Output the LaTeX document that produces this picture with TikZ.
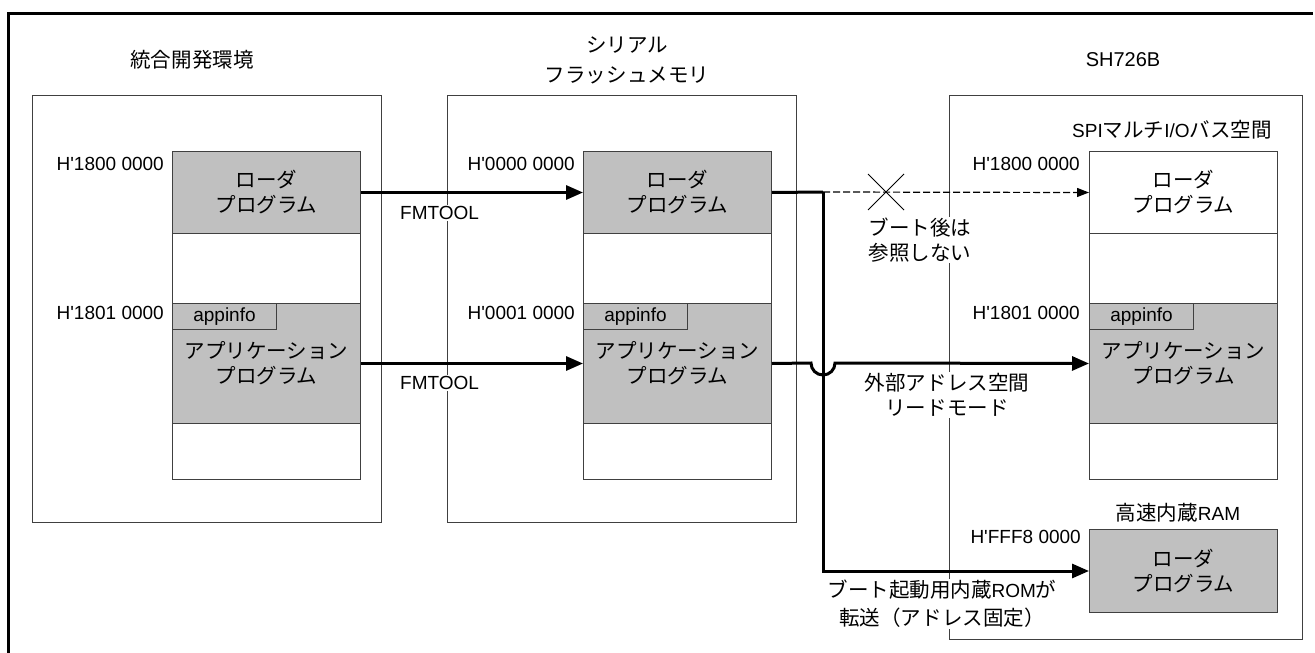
\documentclass[tikz,border=0pt]{standalone}
\usepackage{fontspec}
\setmainfont{Liberation Sans}[Ligatures=TeXOff]
\newfontfamily\jp{Noto Sans CJK JP}[Scale=1.08]
\usetikzlibrary{arrows.meta}
\definecolor{boxc}{RGB}{64,64,64}
\definecolor{gblk}{RGB}{192,192,192}
\tikzset{
  txt/.style={font=\fontsize{19}{25}\selectfont, inner sep=1pt, align=center},
  colfr/.style={draw=boxc, line width=1pt, anchor=north west, inner sep=0pt, fill=white},
  memo/.style={draw=boxc, fill=white, line width=1pt, minimum width=188pt, minimum height=328pt, anchor=north west, inner sep=0pt},
  blk/.style={txt, draw=boxc, line width=1pt, minimum width=188pt, anchor=north west},
  ldblk/.style={blk, fill=gblk, minimum height=82pt},
  appblk/.style={blk, fill=gblk, minimum height=120pt},
  infoblk/.style={txt, draw=boxc, fill=gblk, line width=1pt, minimum width=104pt, minimum height=26pt, anchor=north west},
  addr/.style={txt, anchor=east},
  lbl/.style={txt, fill=white},
  bigarrow/.style={line width=3pt, -{Triangle[length=17pt,width=14pt]}},
  thickline/.style={line width=3pt},
  dasharrow/.style={line width=1.2pt, dash pattern=on 7pt off 3pt, -{Triangle[length=12pt,width=9pt]}},
}
\begin{document}
\begin{tikzpicture}[x=1pt, y=-1pt]
\useasboundingbox (0,0) rectangle (1315,653);
% outer frame (top and left visible)
\draw[line width=3pt] (8,653) -- (8,13) -- (1313,13);

% column frames
\node[colfr, minimum width=349pt, minimum height=427pt] (Lfr) at (32,95) {};
\node[colfr, minimum width=349pt, minimum height=427pt] (Mfr) at (447,95) {};
\node[colfr, minimum width=353pt, minimum height=544pt] (Rfr) at (949,95) {};

% titles
\node[txt] (Ltitle) at (192,60) {\jp 統合開発環境};
\node[txt, font=\fontsize{19}{30}\selectfont] (Mtitle) at (627,60) {{\jp シリアル}\\{\jp フラッシュメモリ}};
\node[txt, font=\fontsize{20}{25}\selectfont] (Rtitle) at (1123,60) {SH726B};
\node[txt] (spi) at (1172,130) {SPI{\jp マルチ}I/O{\jp バス空間}};

% left memory
\node[memo] (Lmem) at (172,151) {};
\node[ldblk] (Lld) at (172,151) {{\jp ローダ}\\{\jp プログラム}};
\node[appblk] (Lapp) at (172,303) {{\jp アプリケーション}\\{\jp プログラム}};
\node[infoblk] (Linfo) at (172,303) {appinfo};
\node[addr] (La1) at (165,164) {H'1800 0000};
\node[addr] (La2) at (165,313) {H'1801 0000};

% middle memory
\node[memo] (Mmem) at (583,151) {};
\node[ldblk] (Mld) at (583,151) {{\jp ローダ}\\{\jp プログラム}};
\node[appblk] (Mapp) at (583,303) {{\jp アプリケーション}\\{\jp プログラム}};
\node[infoblk] (Minfo) at (583,303) {appinfo};
\node[addr] (Ma1) at (576,164) {H'0000 0000};
\node[addr] (Ma2) at (576,313) {H'0001 0000};

% right memory
\node[memo] (Rmem) at (1089,151) {};
\node[blk, fill=white, minimum height=82pt] (Rld) at (1089,151) {{\jp ローダ}\\{\jp プログラム}};
\node[appblk] (Rapp) at (1089,303) {{\jp アプリケーション}\\{\jp プログラム}};
\node[infoblk] (Rinfo) at (1089,303) {appinfo};
\node[addr] (Ra1) at (1081,164) {H'1800 0000};
\node[addr] (Ra2) at (1081,313) {H'1801 0000};

% high-speed RAM
\node[txt] (ramt) at (1178,513) {{\jp 高速内蔵}RAM};
\node[ldblk, minimum height=83pt] (RAM) at (1089,529) {{\jp ローダ}\\{\jp プログラム}};
\node[addr] (Ra3) at (1082,537) {H'FFF8 0000};

% connectors
\coordinate (J1) at (823,192);
\draw[bigarrow] (Lld.east) -- (Mld.west);
\draw[bigarrow] (Lapp.east) -- (Mapp.west);
\draw[thickline] (Mld.east) -- (J1);
\draw[bigarrow] (J1) |- (RAM.west);
\draw[dasharrow] (J1) -- (Rld.west);
\draw[bigarrow] (Mapp.east) -- (811,363) arc[start angle=180, end angle=0, radius=12] -- (Rapp.west);

% cross mark
\draw[line width=0.8pt] (868,174) -- (904,210) (868,210) -- (904,174);

% labels
\node[lbl, anchor=west] (fm1) at (399,213) {FMTOOL};
\node[lbl, anchor=west] (fm2) at (399,383) {FMTOOL};
\node[lbl] (noref) at (920,240) {{\jp ブート後は}\\{\jp 参照しない}};
\node[lbl] (ext) at (947,395) {{\jp 外部アドレス空間}\\{\jp リードモード}};
\node[lbl, font=\fontsize{19}{28}\selectfont] (rom) at (942,604) {{\jp ブート起動用内蔵}ROM{\jp が}\\{\jp 転送（アドレス固定）}};
\end{tikzpicture}
\end{document}
